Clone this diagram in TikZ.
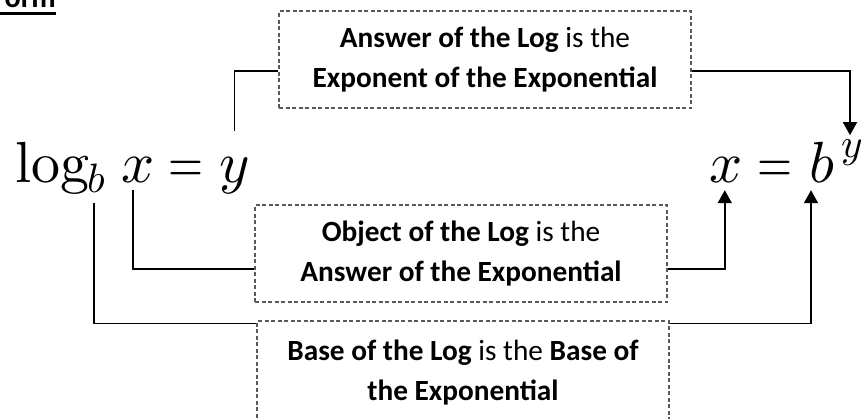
\documentclass[tikz,border=0pt]{standalone}
\usepackage[no-math]{fontspec}
\usepackage{graphicx}
\setmainfont{Carlito}
\usetikzlibrary{arrows.meta}
\newcommand{\bigmath}[1]{\scalebox{5.8}{$#1$}}
\newcommand{\bigeq}{\scalebox{4.5}[5.8]{$=$}}
\newcommand{\submath}[1]{\scalebox{4.1}{$#1$}}
\begin{document}
\begin{tikzpicture}[x=1pt,y=-1pt,
  eqn/.style={inner sep=0pt, anchor=base west, font=\fontsize{10}{12}\selectfont},
  infobox/.style={draw=black!65, dash pattern=on 4pt off 2.5pt, line width=1.1pt,
    minimum width=412pt, minimum height=97pt, inner sep=0pt, align=center,
    font=\fontsize{29.3}{40}\selectfont},
  conn/.style={line width=1.7pt, black},
  arr/.style={-{Triangle[width=14pt,length=13pt]}}]
\useasboundingbox (0,0) rectangle (862,418);
% title (cut off at the page edge)
\node[inner sep=0pt, anchor=base east, font=\fontsize{30}{32}\selectfont\bfseries] (title) at (56,7) {Form};
\draw[line width=3pt] (title.base west |- 0,13) -- (title.base east |- 0,13);
% left equation
\node[eqn] (lg) at (15,182) {\bigmath{\log}};
\node[eqn] (sb) at (87,192) {\submath{b}};
\node[eqn] (x1) at (121,182) {\bigmath{x}};
\node[eqn] (eq1) at (168,182) {\bigeq};
\node[eqn] (y1) at (219,182) {\bigmath{y}};
% right equation
\node[eqn] (x2) at (709,182) {\bigmath{x}};
\node[eqn] (eq2) at (757,182) {\bigeq};
\node[eqn] (b2) at (809,182) {\bigmath{b}};
\node[eqn] (y2) at (841,157) {\submath{y}};
% boxes
\node[infobox] (topbox) at (485,59.5) {\textbf{Answer of the Log} is the\\\textbf{Exponent of the Exponential}};
\node[infobox] (midbox) at (461,253.5) {\textbf{Object of the Log} is the\\\textbf{Answer of the Exponential}};
\node[infobox, minimum height=104pt] (botbox) at (463,373) {\textbf{Base of the Log} is the \textbf{Base of}\\\textbf{the Exponential}};
% connectors
\draw[conn] ([yshift=26pt]y1.north) |- ([yshift=-11.5pt]topbox.west);
\draw[conn,arr] ([yshift=-11.5pt]topbox.east) -| ([xshift=-2pt,yshift=4pt]y2.north);
\draw[conn] ([xshift=-5pt,yshift=-8pt]x1.south) |- ([yshift=-15.5pt]midbox.west);
\draw[conn,arr] ([yshift=-15.5pt]midbox.east) -| ([xshift=-1pt,yshift=-8pt]x2.south);
\draw[conn] ([xshift=-2pt,yshift=-11pt]sb.south) |- ([yshift=-3pt]botbox.north west);
\draw[conn,arr] ([yshift=-3pt]botbox.north east) -| ([xshift=2pt,yshift=-8pt]b2.south west);
\end{tikzpicture}
\end{document}
